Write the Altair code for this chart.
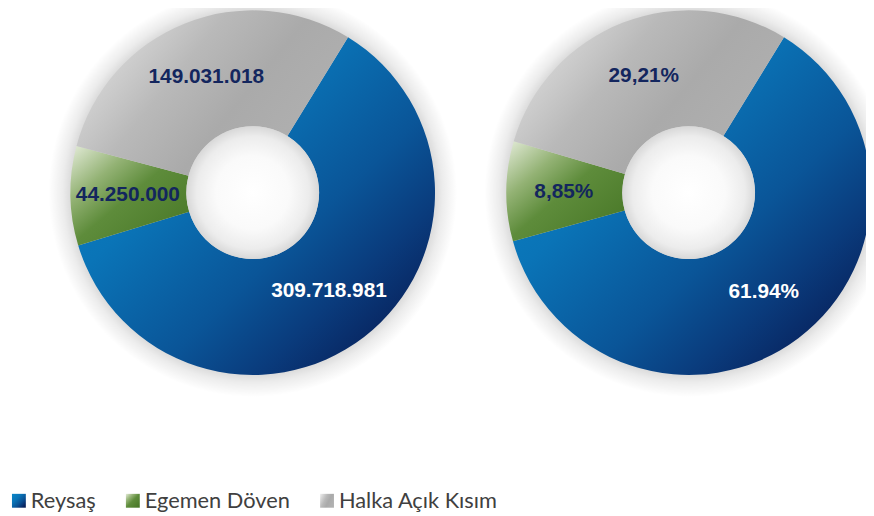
import math
import altair as alt
import pandas as pd

# ---- data ----
categories = ["Reysaş", "Egemen Döven", "Halka Açık Kısım"]
share_counts = [309718981, 44250000, 149031018]
count_labels = ["309.718.981", "44.250.000", "149.031.018"]
share_percents = [61.94, 8.85, 29.21]
percent_labels = ["61.94%", "8,85%", "29,21%"]
panels = ["left", "right"]

rows = []
for i, c in enumerate(categories):
    rows.append({"panel": "left", "category": c, "order": i,
                 "value": share_counts[i], "label": count_labels[i]})
    rows.append({"panel": "right", "category": c, "order": i,
                 "value": share_percents[i], "label": percent_labels[i]})
df = pd.DataFrame(rows)
panel_df = pd.DataFrame({"panel": panels})


# ---- gradient helpers (Vega expression object literals) ----
def lin_expr(stops, x1=0, y1=0, x2=1, y2=1):
    st = ", ".join("{offset: %s, color: '%s'}" % (o, c) for o, c in stops)
    return {"expr": "{gradient: 'linear', x1: %s, y1: %s, x2: %s, y2: %s, stops: [%s]}"
            % (x1, y1, x2, y2, st)}


blue_grad = lin_expr([(0, "#0a86c8"), (0.35, "#0a74b7"), (0.6, "#0a5598"),
                      (0.75, "#0a3b7c"), (0.88, "#08245f"), (1, "#061a50")])
green_grad = lin_expr([(0, "#e4ecd9"), (0.28, "#93b274"), (0.5, "#5e8c3b"),
                       (1, "#457424")])
gray_grad = lin_expr([(0, "#efefef"), (0.2, "#d6d6d6"), (0.45, "#b9b9b9"),
                      (0.7, "#aaaaaa"), (1, "#b0b0b0")], x1=0, y1=0, x2=1, y2=0.5)

start_angle = 0.55
theta_scale = alt.Scale(domain=[0, 1], range=[start_angle, start_angle + 2 * math.pi])
x_scale = alt.Scale(type="point", domain=panels, range=[247, 687], padding=0)
x_enc = alt.X("panel:N", scale=x_scale, axis=None)
y_val = alt.value(184)

base = (
    alt.Chart(df)
    .transform_joinaggregate(total="sum(value)", groupby=["panel"])
    .transform_window(cum="sum(value)", sort=[alt.SortField("order")],
                      groupby=["panel"], frame=[None, 0])
    .transform_calculate(
        f0="(datum.cum - datum.value) / datum.total",
        f1="datum.cum / datum.total",
        fm="(datum.cum - datum.value / 2) / datum.total",
    )
)

shadow = alt.Chart(panel_df).mark_arc(
    theta=0, theta2=2 * math.pi, radius=206, radius2=0,
    fill={"gradient": "radial", "x1": 0.5, "y1": 0.5, "r1": 0,
          "x2": 0.5, "y2": 0.5, "r2": 0.5,
          "stops": [{"offset": 0, "color": "#d0d0d0"},
                    {"offset": 0.88, "color": "#d6d6d6"},
                    {"offset": 0.93, "color": "#ececec"},
                    {"offset": 1, "color": "#ffffff"}]},
).encode(x=x_enc, y=y_val)

arcs = base.mark_arc(radius=184, radius2=67, stroke=None).encode(
    x=x_enc,
    y=y_val,
    theta=alt.Theta("f0:Q", scale=theta_scale),
    theta2="f1:Q",
    fill=alt.Fill(
        "category:N",
        scale=alt.Scale(domain=categories, range=[blue_grad, green_grad, gray_grad]),
        legend=alt.Legend(
            orient="none", legendX=0, legendY=484, direction="horizontal",
            title=None, symbolType="square", symbolSize=196, symbolStrokeWidth=0,
            labelFont="Lato", labelFontSize=22, labelColor="#404040",
            labelOffset=1, columnPadding=26, labelLimit=300, padding=0,
        ),
    ),
)

hole = alt.Chart(panel_df).mark_arc(
    theta=0, theta2=2 * math.pi, radius=67, radius2=0,
    fill={"gradient": "radial", "x1": 0.5, "y1": 0.5, "r1": 0,
          "x2": 0.5, "y2": 0.5, "r2": 0.5,
          "stops": [{"offset": 0, "color": "#ffffff"},
                    {"offset": 0.55, "color": "#fafafa"},
                    {"offset": 0.85, "color": "#ececec"},
                    {"offset": 1, "color": "#d8d8d8"}]},
).encode(x=x_enc, y=y_val)

texts = base.mark_text(
    radius=126, font="Liberation Sans", fontWeight="bold", fontSize=21,
    align="center", baseline="middle",
).encode(
    x=x_enc,
    y=y_val,
    theta=alt.Theta("fm:Q", scale=theta_scale),
    text="label:N",
    color=alt.condition("datum.category === 'Reysaş'",
                        alt.value("#ffffff"), alt.value("#13265e")),
)

chart = (
    alt.layer(shadow, arcs, hole, texts)
    .properties(width=866, height=508, autosize=alt.AutoSizeParams(type="none"),
                padding=0)
    .configure_view(stroke=None)
)

chart.save("out.html", embed_options={"renderer": "svg", "actions": False})
